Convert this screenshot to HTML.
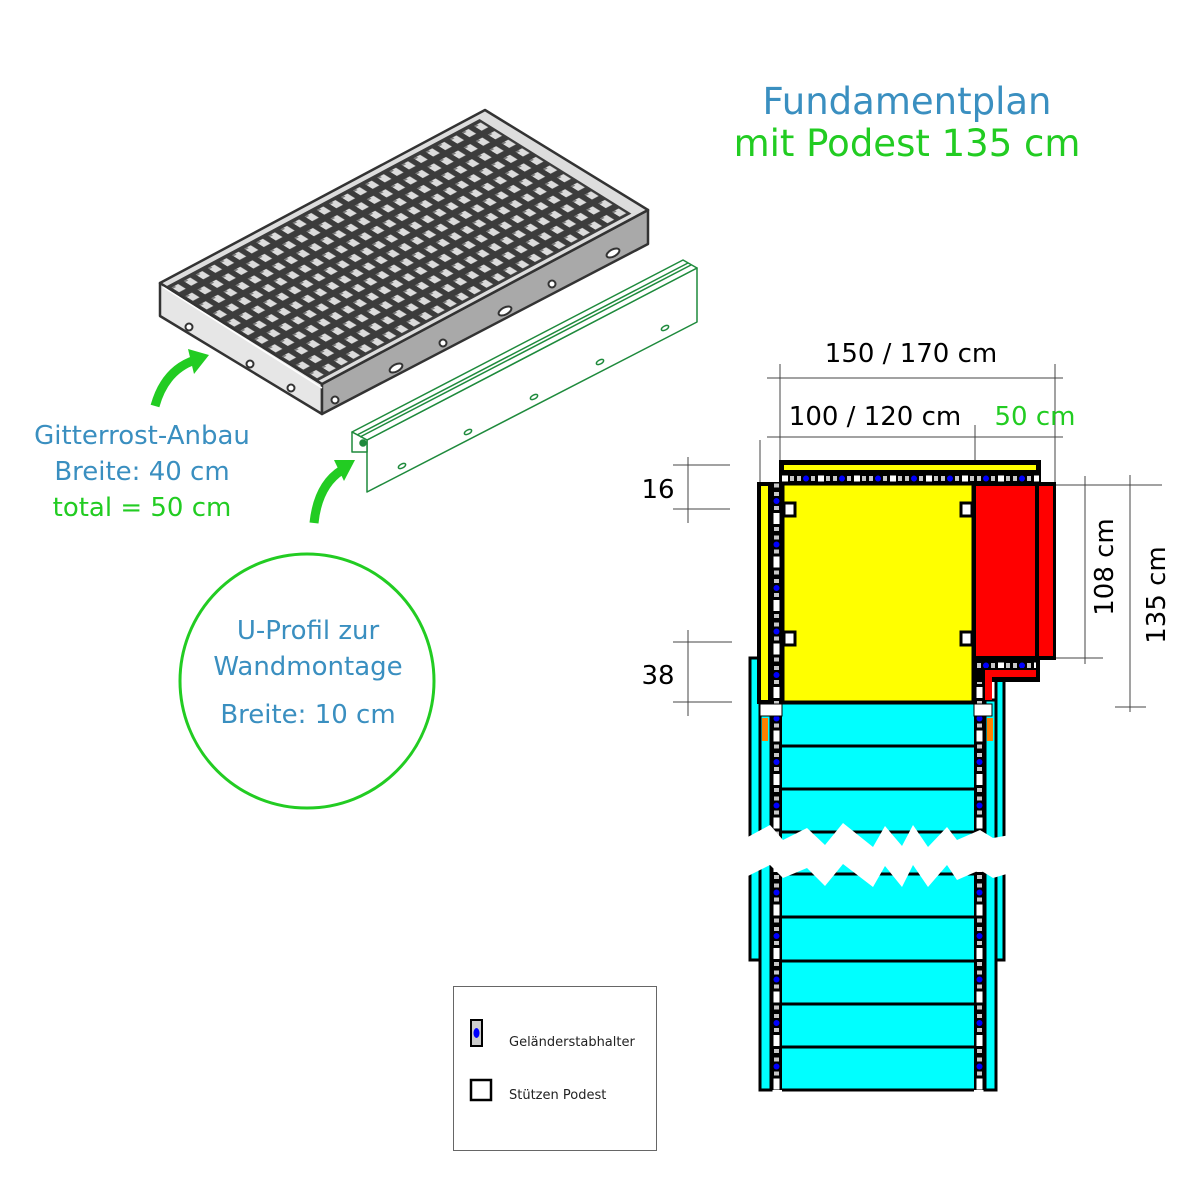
<!DOCTYPE html>
<html><head><meta charset="utf-8"><style>
html,body{margin:0;padding:0;background:#fff;width:1200px;height:1200px;overflow:hidden}
svg{display:block}
.t{font-family:"DejaVu Sans","Liberation Sans",sans-serif}
</style></head><body>
<svg width="1200" height="1200" viewBox="0 0 1200 1200" xmlns="http://www.w3.org/2000/svg">
<defs>
<pattern id="grid" patternUnits="userSpaceOnUse" width="1" height="1">
<rect x="0" y="0" width="1" height="1" fill="#3c3c3c"/>
<rect x="0.25" y="0.25" width="0.55" height="0.55" fill="#dcdcdc"/>
<rect x="0.25" y="0.25" width="0.25" height="0.12" fill="#7a7a7a"/>
</pattern>
<pattern id="railV" patternUnits="userSpaceOnUse" x="771" y="490" width="11" height="43.5">
<rect x="0" y="0" width="11" height="43.5" fill="#000"/>
<rect x="3" y="2" width="5" height="4" fill="#c8c8c8"/>
<circle cx="5.5" cy="11" r="3" fill="#0000ff"/>
<rect x="3" y="16" width="5" height="4" fill="#c8c8c8"/>
<rect x="2.5" y="23" width="6" height="11" fill="#fff"/>
<rect x="3" y="37" width="5" height="4" fill="#c8c8c8"/>
</pattern>
<pattern id="railV2" patternUnits="userSpaceOnUse" x="974" y="490" width="11" height="43.5">
<rect x="0" y="0" width="11" height="43.5" fill="#000"/>
<rect x="3" y="2" width="5" height="4" fill="#c8c8c8"/>
<circle cx="5.5" cy="11" r="3" fill="#0000ff"/>
<rect x="3" y="16" width="5" height="4" fill="#c8c8c8"/>
<rect x="2.5" y="23" width="6" height="11" fill="#fff"/>
<rect x="3" y="37" width="5" height="4" fill="#c8c8c8"/>
</pattern>
<pattern id="railH" patternUnits="userSpaceOnUse" x="795" y="473" width="36" height="11">
<rect x="0" y="0" width="36" height="11" fill="#000"/>
<rect x="2" y="3" width="4" height="5" fill="#c8c8c8"/>
<circle cx="11" cy="5.5" r="3" fill="#0000ff"/>
<rect x="16" y="3" width="4" height="5" fill="#c8c8c8"/>
<rect x="23" y="2.5" width="6" height="6" fill="#fff"/>
<rect x="31" y="3" width="4" height="5" fill="#c8c8c8"/>
</pattern>
</defs>

<!-- Title -->
<text class="t" x="907" y="114" font-size="37" fill="#3a8fc0" text-anchor="middle">Fundamentplan</text>
<text class="t" x="907" y="156" font-size="37" fill="#22cc22" text-anchor="middle">mit Podest 135 cm</text>

<!-- Grating -->
<polygon points="160,283 322,384 322,414 160,316" fill="#e6e6e6" stroke="#333" stroke-width="2.5" stroke-linejoin="round"/>
<polygon points="322,384 648,210 648,244 322,414" fill="#a9a9a9" stroke="#333" stroke-width="2.5" stroke-linejoin="round"/>
<polygon points="160,283 485,110 648,210 322,384" fill="#ddd" stroke="#333" stroke-width="2.5" stroke-linejoin="round"/>
<g transform="matrix(12.1,-6.46,13.8,8.6,165,287)">
<rect x="0" y="0" width="26" height="11" fill="url(#grid)"/>
</g>
<line x1="163" y1="287" x2="322" y2="388" stroke="#fff" stroke-width="1.5"/>
<line x1="160" y1="283" x2="322" y2="384" stroke="#333" stroke-width="2"/>
<g fill="#fff" stroke="#333" stroke-width="2">
<circle cx="189" cy="327" r="3.5"/><circle cx="250" cy="364" r="3.5"/><circle cx="291" cy="388" r="3.5"/>
<circle cx="335" cy="400" r="3.5"/><circle cx="443" cy="343" r="3.5"/><circle cx="552" cy="284" r="3.5"/>
<ellipse cx="396" cy="368" rx="7" ry="3.5" transform="rotate(-28 396 368)"/>
<ellipse cx="505" cy="311" rx="7" ry="3.5" transform="rotate(-28 505 311)"/>
<ellipse cx="613" cy="253" rx="7" ry="3.5" transform="rotate(-28 613 253)"/>
</g>

<!-- U-profile -->
<g fill="#fff" stroke="#1e8a3c" stroke-width="1.5" stroke-linejoin="round">
<polygon points="367,440 697,268 697,322 367,492"/>
<polygon points="352,432 683,260 697,268 367,440"/>
<polygon points="352,432 367,440 367,452 352,452"/>
<line x1="357" y1="435" x2="688" y2="263"/>
<line x1="360" y1="437" x2="691" y2="265"/>
<circle cx="363" cy="443" r="3" fill="#1e8a3c"/>
<ellipse cx="402" cy="466" rx="4" ry="2" transform="rotate(-28 402 466)"/>
<ellipse cx="468" cy="432" rx="4" ry="2" transform="rotate(-28 468 432)"/>
<ellipse cx="534" cy="397" rx="4" ry="2" transform="rotate(-28 534 397)"/>
<ellipse cx="600" cy="362" rx="4" ry="2" transform="rotate(-28 600 362)"/>
<ellipse cx="665" cy="328" rx="4" ry="2" transform="rotate(-28 665 328)"/>
</g>

<!-- green arrows -->
<path d="M155,406 Q165,370 195,360" fill="none" stroke="#22cc22" stroke-width="9"/>
<polygon points="188,349 209,355 194,374" fill="#22cc22"/>
<path d="M314,523 Q318,485 342,470" fill="none" stroke="#22cc22" stroke-width="9"/>
<polygon points="334,460 355,460 344,481" fill="#22cc22"/>

<!-- left texts -->
<text class="t" x="142" y="444" font-size="26" fill="#3a8fc0" text-anchor="middle">Gitterrost-Anbau</text>
<text class="t" x="142" y="480" font-size="26" fill="#3a8fc0" text-anchor="middle">Breite: 40 cm</text>
<text class="t" x="142" y="516" font-size="26" fill="#22cc22" text-anchor="middle">total = 50 cm</text>

<circle cx="307" cy="681" r="127" fill="#fff" stroke="#22cc22" stroke-width="3"/>
<text class="t" x="308" y="639" font-size="26" fill="#3a8fc0" text-anchor="middle">U-Profil zur</text>
<text class="t" x="308" y="675" font-size="26" fill="#3a8fc0" text-anchor="middle">Wandmontage</text>
<text class="t" x="308" y="723" font-size="26" fill="#3a8fc0" text-anchor="middle">Breite: 10 cm</text>

<!-- dimension lines -->
<g stroke="#444" stroke-width="1" fill="none">
<line x1="767" y1="378" x2="1063" y2="378"/>
<line x1="767" y1="437" x2="1063" y2="437"/>
<line x1="780" y1="364" x2="780" y2="470"/>
<line x1="1055" y1="364" x2="1055" y2="485"/>
<line x1="975" y1="425" x2="975" y2="462"/>
<line x1="760" y1="440" x2="760" y2="482"/>
<line x1="673" y1="465" x2="730" y2="465"/>
<line x1="673" y1="509" x2="730" y2="509"/>
<line x1="688" y1="457" x2="688" y2="523"/>
<line x1="673" y1="642" x2="732" y2="642"/>
<line x1="673" y1="702" x2="732" y2="702"/>
<line x1="688" y1="630" x2="688" y2="716"/>
<line x1="1055" y1="485" x2="1162" y2="485"/>
<line x1="1040" y1="658" x2="1103" y2="658"/>
<line x1="1085" y1="476" x2="1085" y2="664"/>
<line x1="1130" y1="475" x2="1130" y2="712"/>
<line x1="1115" y1="707" x2="1146" y2="707"/>
</g>
<text class="t" x="911" y="362" font-size="26" fill="#000" text-anchor="middle">150 / 170 cm</text>
<text class="t" x="875" y="425" font-size="26" fill="#000" text-anchor="middle">100 / 120 cm</text>
<text class="t" x="1035" y="425" font-size="26" fill="#22cc22" text-anchor="middle">50 cm</text>
<text class="t" x="658" y="498" font-size="26" fill="#000" text-anchor="middle">16</text>
<text class="t" x="658" y="684" font-size="26" fill="#000" text-anchor="middle">38</text>
<text class="t" x="0" y="0" font-size="26" fill="#000" text-anchor="middle" transform="translate(1113,567) rotate(-90)">108 cm</text>
<text class="t" x="0" y="0" font-size="26" fill="#000" text-anchor="middle" transform="translate(1165,595) rotate(-90)">135 cm</text>

<!-- PLAN lower section -->
<rect x="750" y="658" width="10" height="302" fill="#00ffff" stroke="#000" stroke-width="3"/>
<rect x="996" y="680" width="8" height="280" fill="#00ffff" stroke="#000" stroke-width="3"/>
<rect x="760" y="702" width="11" height="388" fill="#00ffff" stroke="#000" stroke-width="3"/>
<rect x="985" y="700" width="11" height="390" fill="#00ffff" stroke="#000" stroke-width="3"/>
<rect x="762" y="718" width="6" height="23" fill="#ff8000"/>
<rect x="987" y="718" width="6" height="23" fill="#ff8000"/>
<rect x="782" y="702" width="192" height="388" fill="#00ffff"/>
<g stroke="#000" stroke-width="3">
<line x1="782" y1="703" x2="974" y2="703"/>
<line x1="782" y1="746" x2="974" y2="746"/>
<line x1="782" y1="789" x2="974" y2="789"/>
<line x1="782" y1="832" x2="974" y2="832"/>
<line x1="782" y1="874" x2="974" y2="874"/>
<line x1="782" y1="917" x2="974" y2="917"/>
<line x1="782" y1="961" x2="974" y2="961"/>
<line x1="782" y1="1004" x2="974" y2="1004"/>
<line x1="782" y1="1047" x2="974" y2="1047"/>
<line x1="782" y1="1090" x2="974" y2="1090"/>
</g>
<rect x="771" y="482" width="11" height="608" fill="url(#railV)"/>
<rect x="974" y="668" width="11" height="422" fill="url(#railV2)"/>
<rect x="760" y="704" width="22" height="12" fill="#fff" stroke="#000" stroke-width="1"/>
<rect x="974" y="704" width="18" height="12" fill="#fff" stroke="#000" stroke-width="1"/>

<!-- PLAN upper section -->
<rect x="779" y="460" width="262" height="25" fill="#000"/>
<rect x="784" y="465" width="252" height="5" fill="#ffff00"/>
<rect x="781" y="473" width="258" height="10" fill="url(#railH)"/>
<rect x="757" y="482" width="14" height="222" fill="#000"/>
<rect x="761" y="486" width="7" height="214" fill="#ffff00"/>
<rect x="783" y="484" width="190" height="218" fill="#ffff00" stroke="#000" stroke-width="3"/>
<rect x="972" y="482" width="84" height="178" fill="#000"/>
<rect x="976" y="486" width="59" height="170" fill="#ff0000"/>
<rect x="1039" y="486" width="14" height="170" fill="#ff0000"/>
<rect x="972" y="656" width="68" height="26" fill="#000"/>
<rect x="976" y="659" width="60" height="9" fill="url(#railH)"/>
<polygon points="985,670 1036,670 1036,677 992,677 992,700 985,700" fill="#ff0000"/>
<g fill="#fff" stroke="#000" stroke-width="3">
<rect x="784" y="503" width="11" height="13"/>
<rect x="961" y="503" width="11" height="13"/>
<rect x="784" y="632" width="11" height="13"/>
<rect x="961" y="632" width="11" height="13"/>
</g>

<!-- break -->
<polygon fill="#fff" points="746,838 770,825 783,840 807,828 825,845 843,823 873,847 885,826 902,846 913,825 928,847 947,827 957,840 980,830 993,838 1010,835 1010,873 993,878 980,870 957,880 947,865 928,887 913,865 902,887 885,866 873,887 843,864 825,886 807,868 783,878 770,865 746,877"/>

<!-- legend -->
<rect x="453.5" y="986.5" width="203" height="164" fill="#fff" stroke="#666" stroke-width="1"/>
<rect x="471" y="1020" width="11" height="26" fill="#ccc" stroke="#000" stroke-width="2"/>
<ellipse cx="476.5" cy="1033" rx="3" ry="5" fill="#0000ff"/>
<rect x="471" y="1080" width="20" height="20" fill="#fff" stroke="#000" stroke-width="2.5"/>
<text class="t" x="509" y="1046" font-size="13" fill="#222">Geländerstabhalter</text>
<text class="t" x="509" y="1099" font-size="13" fill="#222">Stützen Podest</text>
</svg>
</body></html>
